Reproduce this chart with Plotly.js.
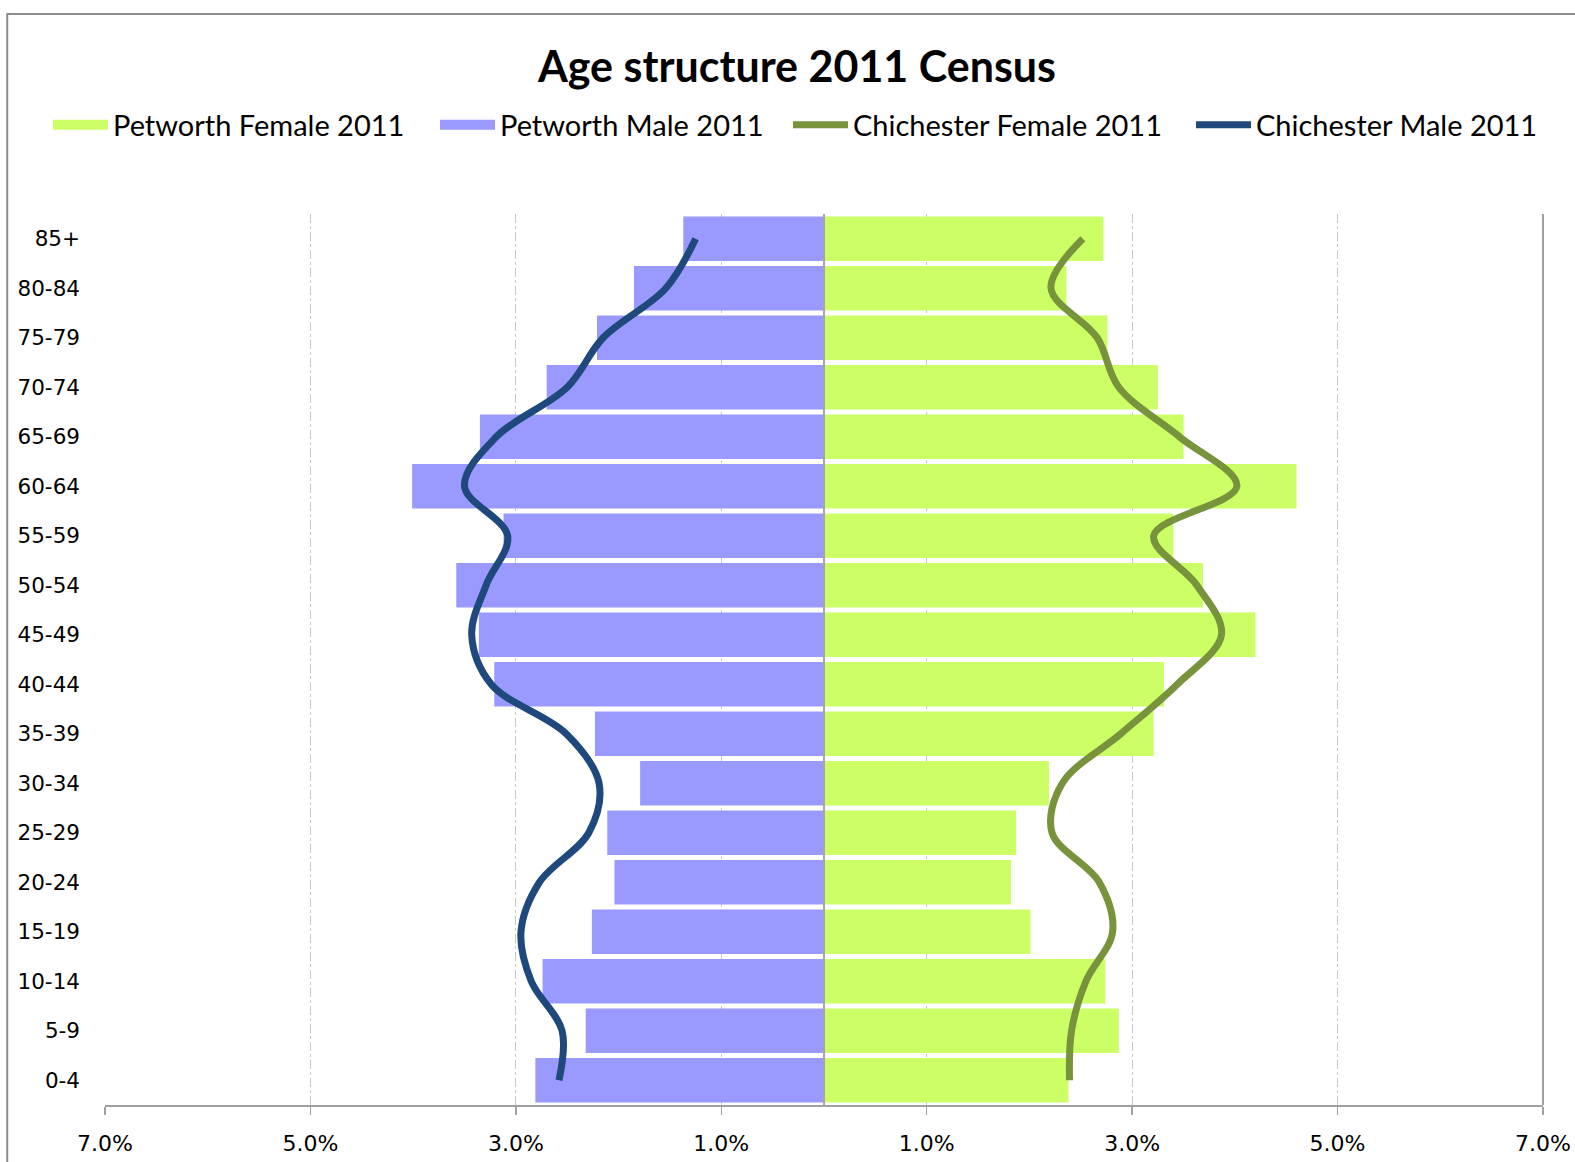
<!DOCTYPE html>
<html>
<head>
<meta charset="utf-8">
<script src="https://cdn.plot.ly/plotly-3.0.1.min.js"></script>
<style>
  html, body { margin: 0; padding: 0; background: #fff; }
  #chart { width: 1575px; height: 1162px; }
</style>
</head>
<body>
<div id="chart"></div>
<script>
// age bands, youngest first (bottom of the chart)
var ageBands = ['0-4', '5-9', '10-14', '15-19', '20-24', '25-29', '30-34', '35-39', '40-44',
                '45-49', '50-54', '55-59', '60-64', '65-69', '70-74', '75-79', '80-84', '85+'];

// share of population, %
var petworthFemale = [2.38, 2.87, 2.74, 2.01, 1.82, 1.87, 2.19, 3.21, 3.31,
                      4.20, 3.69, 3.40, 4.60, 3.50, 3.25, 2.76, 2.36, 2.72];
var petworthMale   = [2.81, 2.32, 2.74, 2.26, 2.04, 2.11, 1.79, 2.23, 3.21,
                      3.36, 3.58, 3.12, 4.01, 3.35, 2.70, 2.21, 1.85, 1.37];
var chichesterFemale = [2.39, 2.41, 2.55, 2.81, 2.68, 2.22, 2.32, 2.89, 3.44,
                        3.87, 3.63, 3.21, 4.02, 3.46, 2.87, 2.66, 2.21, 2.52];
var chichesterMale   = [2.58, 2.55, 2.85, 2.95, 2.77, 2.29, 2.19, 2.51, 3.24,
                        3.43, 3.29, 3.08, 3.50, 3.19, 2.50, 2.15, 1.54, 1.25];

var tickVals = [-7, -5, -3, -1, 1, 3, 5, 7];
var tickText = ['7.0%', '5.0%', '3.0%', '1.0%', '1.0%', '3.0%', '5.0%', '7.0%'];

var femaleBarColor = '#CCFF66';
var maleBarColor = '#9999FF';

// males go to the left
function neg(arr) { return arr.map(function (v) { return -v; }); }

// legend entries with big block swatches, like the spreadsheet legend
function legendBlock(name, color, legendId) {
  return {
    name: name, type: 'scatter', mode: 'lines',
    x: [null], y: [null],
    line: {color: color, width: 17},
    legend: legendId
  };
}

// one single-item legend per entry so each can sit where the original has it
function legendAt(left) {
  return {
    orientation: 'h',
    x: left / 1575, xref: 'container', xanchor: 'left',
    y: 1 - 125 / 1162, yref: 'container', yanchor: 'middle',
    font: {family: 'Lato', size: 29, color: '#000'},
    itemwidth: 55,
    bgcolor: 'rgba(0,0,0,0)'
  };
}

var traces = [
  {
    name: 'Petworth Female 2011',
    type: 'bar', orientation: 'h',
    x: petworthFemale, y: ageBands,
    marker: {color: femaleBarColor},
    showlegend: false
  },
  {
    name: 'Petworth Male 2011',
    type: 'bar', orientation: 'h',
    x: neg(petworthMale), y: ageBands,
    marker: {color: maleBarColor},
    showlegend: false
  },
  legendBlock('Petworth Female 2011', femaleBarColor, 'legend'),
  legendBlock('Petworth Male 2011', maleBarColor, 'legend2'),
  {
    name: 'Chichester Female 2011',
    type: 'scatter', mode: 'lines',
    x: chichesterFemale, y: ageBands,
    line: {color: '#77933C', width: 7, shape: 'spline', smoothing: 1},
    legend: 'legend3'
  },
  {
    name: 'Chichester Male 2011',
    type: 'scatter', mode: 'lines',
    x: neg(chichesterMale), y: ageBands,
    line: {color: '#1F497D', width: 7, shape: 'spline', smoothing: 1},
    legend: 'legend4'
  }
];

var layout = {
  width: 1575,
  height: 1162,
  margin: {l: 105, r: 32, t: 214, b: 57},
  paper_bgcolor: '#fff',
  plot_bgcolor: '#fff',
  barmode: 'relative',
  bargap: 0.1,
  showlegend: true,
  font: {family: 'DejaVu Sans', color: '#000'},
  title: {
    text: 'Age structure 2011 Census',
    font: {family: 'Lato', size: 43, weight: 'bold', color: '#000'},
    x: 0.506, xref: 'container', xanchor: 'center',
    y: 1 - 67 / 1162, yref: 'container', yanchor: 'middle'
  },
  legend: legendAt(48),
  legend2: legendAt(435),
  legend3: legendAt(788),
  legend4: legendAt(1191),
  xaxis: {
    range: [-7, 7],
    tickvals: tickVals,
    ticktext: tickText,
    tickfont: {family: 'DejaVu Sans', size: 22, color: '#000'},
    ticks: 'outside',
    ticklen: 8,
    tickcolor: '#A0A0A0',
    tickwidth: 1.5,
    ticklabelstandoff: 10,
    showline: true,
    linecolor: '#A0A0A0',
    linewidth: 2,
    showgrid: true,
    gridcolor: '#C8C8C8',
    griddash: 'dashdot',
    gridwidth: 1,
    zeroline: false,
    fixedrange: true
  },
  yaxis: {
    type: 'category',
    categoryorder: 'array',
    categoryarray: ageBands,
    range: [-0.5, ageBands.length - 0.5],
    tickfont: {family: 'DejaVu Sans', size: 21.5, color: '#000'},
    ticks: '',
    ticklabelstandoff: 24,
    showline: false,
    showgrid: false,
    zeroline: false,
    fixedrange: true
  },
  shapes: [
    // centre axis between the two halves
    {type: 'line', xref: 'x', yref: 'paper', x0: 0, x1: 0, y0: 0, y1: 1,
     line: {color: '#A6A6A6', width: 2}, layer: 'above'},
    // right edge of plot area
    {type: 'line', xref: 'paper', yref: 'paper', x0: 1, x1: 1, y0: 0, y1: 1,
     line: {color: '#A0A0A0', width: 2}},
    // chart frame
    {type: 'rect', xref: 'paper', yref: 'paper', x0: -0.068, x1: 1.2, y0: -0.2, y1: 1.2245,
     line: {color: '#8C8C8C', width: 2}, fillcolor: 'rgba(0,0,0,0)'}
  ]
};

Plotly.newPlot('chart', traces, layout, {displayModeBar: false, staticPlot: true});
</script>
</body>
</html>
